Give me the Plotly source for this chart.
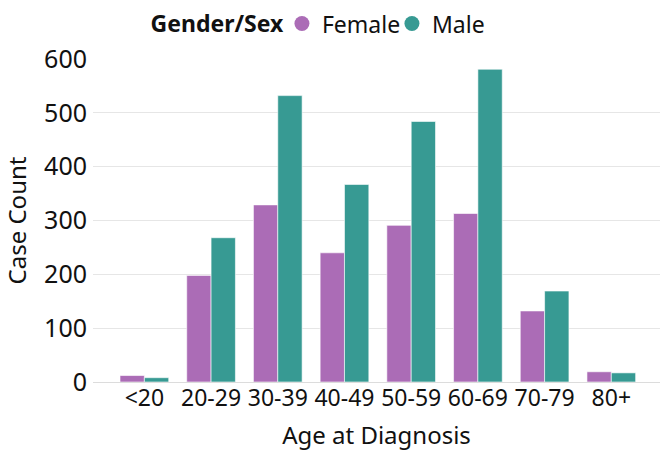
import plotly.graph_objects as go

categories = ["<20", "20-29", "30-39", "40-49", "50-59", "60-69", "70-79", "80+"]
female = [12, 198, 329, 240, 291, 313, 132, 19]
male = [8, 268, 532, 367, 484, 581, 169, 17]

FEMALE_C = "#ab6cb6"
MALE_C = "#379a93"
FONT = "Noto Sans, Open Sans, sans-serif"

fig = go.Figure()
for name, vals, col in [("Female", female, FEMALE_C), ("Male", male, MALE_C)]:
    fig.add_trace(go.Bar(
        x=categories, y=vals, name=name, marker_color=col,
        marker_line=dict(color="rgba(255,255,255,0.6)", width=1),
        legendgroup=name, showlegend=False,
    ))
for name, col in [("Female", FEMALE_C), ("Male", MALE_C)]:
    fig.add_trace(go.Scatter(
        x=[None], y=[None], mode="markers", name=name,
        marker=dict(color=col, size=15, symbol="circle"),
        legendgroup=name, showlegend=True,
    ))

fig.update_layout(
    width=660, height=455,
    margin=dict(l=93, r=0, t=59, b=73),
    paper_bgcolor="white", plot_bgcolor="white",
    font=dict(family=FONT, size=23, color="#111"),
    barmode="group", bargap=0.27, bargroupgap=0,
    legend=dict(
        orientation="h", x=0.098, xanchor="left", y=1.043, yanchor="bottom",
        title=dict(text="<b>Gender/Sex</b>", font=dict(size=23)),
        font=dict(size=23), itemwidth=30, tracegroupgap=0,
        indentation=-10, entrywidth=75,
    ),
    xaxis=dict(
        type="category", range=[-0.77, 7.73], automargin=False,
        title=dict(text="Age at Diagnosis", font=dict(size=24), standoff=15),
        tickfont=dict(size=23), showgrid=False, ticks="",
    ),
    yaxis=dict(
        range=[0, 600], tickvals=[0, 100, 200, 300, 400, 500, 600], automargin=False,
        title=dict(text="Case Count", font=dict(size=24), standoff=24),
        tickfont=dict(size=25), gridcolor="#e6e6e6", gridwidth=1,
        zeroline=True, zerolinecolor="#dcdcdc", zerolinewidth=1,
        ticks="", ticklen=0, ticklabelstandoff=5,
    ),
)

fig.write_html("out.html", config={"displayModeBar": False},
               post_script="document.body.style.margin='0';")
